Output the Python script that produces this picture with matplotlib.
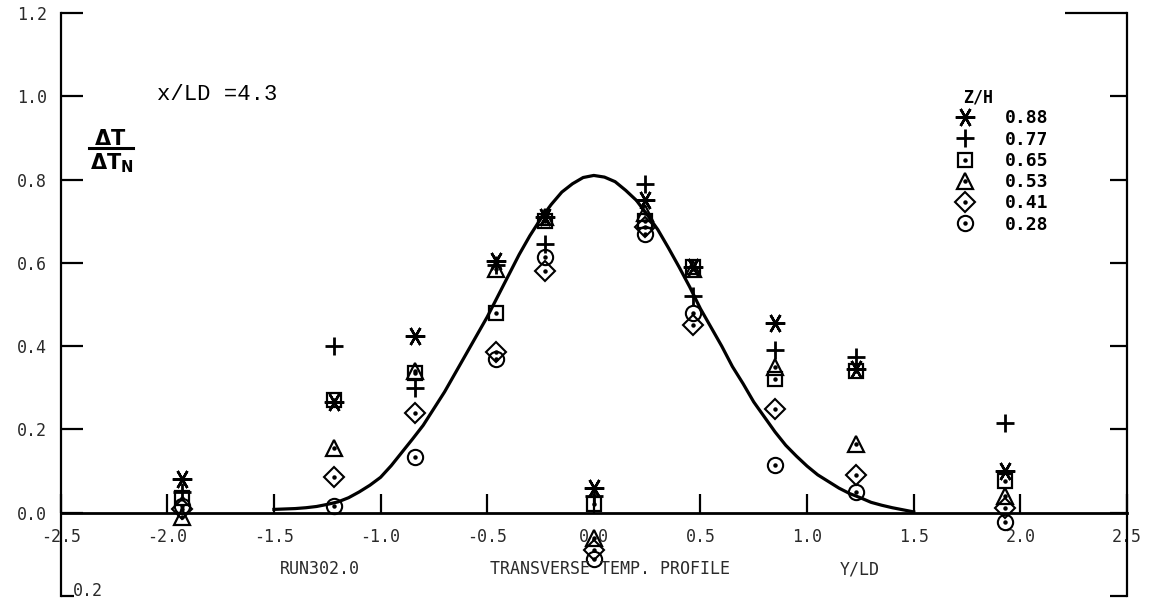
import matplotlib
matplotlib.use("Agg")
import matplotlib.pyplot as plt
from matplotlib.lines import Line2D

# Transverse positions y/LD of the measuring stations
y_ld = [-1.93, -1.22, -0.84, -0.46, -0.23, 0.0, 0.24, 0.465, 0.85, 1.23, 1.93]

# Normalised temperature rise dT/dT_N at each height z/H
z_labels = ["0.88", "0.77", "0.65", "0.53", "0.41", "0.28"]
dt_z088 = [0.08, 0.265, 0.425, 0.605, 0.71, 0.06, 0.75, 0.59, 0.455, 0.345, 0.10]
dt_z077 = [0.05, 0.40, 0.30, 0.595, 0.645, 0.04, 0.79, 0.52, 0.39, 0.375, 0.215]
dt_z065 = [0.035, 0.27, 0.335, 0.48, 0.70, 0.02, 0.70, 0.59, 0.32, 0.34, 0.075]
dt_z053 = [-0.01, 0.155, 0.34, 0.585, 0.71, -0.06, 0.72, 0.585, 0.35, 0.165, 0.04]
dt_z041 = [0.01, 0.085, 0.24, 0.385, 0.58, -0.09, 0.685, 0.45, 0.25, 0.09, 0.012]
dt_z028 = [0.015, 0.015, 0.135, 0.37, 0.615, -0.11, 0.67, 0.48, 0.115, 0.05, -0.022]

# Reference profile curve
curve_x = [-1.50, -1.45, -1.40, -1.35, -1.30, -1.25, -1.20, -1.15, -1.10, -1.05,
           -1.00, -0.95, -0.90, -0.85, -0.80, -0.75, -0.70, -0.65, -0.60, -0.55,
           -0.50, -0.45, -0.40, -0.35, -0.30, -0.25, -0.20, -0.15, -0.10, -0.05,
           0.00, 0.05, 0.10, 0.15, 0.20, 0.25, 0.30, 0.35, 0.40, 0.45,
           0.50, 0.55, 0.60, 0.65, 0.70, 0.75, 0.80, 0.85, 0.90, 0.95,
           1.00, 1.05, 1.10, 1.15, 1.20, 1.25, 1.30, 1.35, 1.40, 1.45, 1.50]
curve_y = [0.008, 0.009, 0.010, 0.012, 0.015, 0.020, 0.026, 0.036, 0.050, 0.066,
           0.085, 0.113, 0.145, 0.177, 0.210, 0.250, 0.290, 0.335, 0.380, 0.425,
           0.470, 0.520, 0.570, 0.620, 0.665, 0.705, 0.740, 0.770, 0.790, 0.805,
           0.810, 0.806, 0.795, 0.774, 0.750, 0.716, 0.680, 0.636, 0.590, 0.542,
           0.490, 0.445, 0.400, 0.351, 0.310, 0.266, 0.230, 0.194, 0.162, 0.136,
           0.112, 0.091, 0.075, 0.059, 0.046, 0.036, 0.025, 0.018, 0.012, 0.007,
           0.002]

x_ticks = [-2.5, -2.0, -1.5, -1.0, -0.5, 0.0, 0.5, 1.0, 1.5, 2.0, 2.5]
x_tick_labels = ["-2.5", "-2.0", "-1.5", "-1.0", "-0.5", "0.0", "0.5", "1.0",
                 "1.5", "2.0", "2.5"]
y_ticks = [0.0, 0.2, 0.4, 0.6, 0.8, 1.0, 1.2]
y_tick_labels = ["0.0", "0.2", "0.4", "0.6", "0.8", "1.0", "1.2"]

W, H = 1151, 601
PLOT_FONT = "DejaVu Sans Mono"
INK = "#2a2a2a"


def fx(px):
    return px / W


def fy(py):
    return 1 - py / H


fig = plt.figure(figsize=(W / 100, H / 100), dpi=100)
ax = fig.add_axes([0.0527, 0.0083, 0.9264, 0.9700])
ax.set_xlim(-2.5, 2.5)
ax.set_ylim(-0.2, 1.2)

ax.spines["top"].set_visible(False)
ax.spines["right"].set_visible(False)
ax.spines["bottom"].set_position(("data", 0))
ax.spines["left"].set_linewidth(1.6)
ax.spines["bottom"].set_linewidth(2.0)

ax.set_xticks(x_ticks)
ax.set_xticklabels(x_tick_labels, family=PLOT_FONT, color=INK)
ax.tick_params(axis="x", direction="in", length=14, width=1.6, pad=11,
               labelsize=12)
ax.set_yticks(y_ticks)
ax.set_yticklabels(y_tick_labels, family=PLOT_FONT, color=INK)
ax.set_yticks([-0.2], minor=True)
ax.tick_params(axis="y", which="major", direction="in", length=16, width=1.6,
               pad=10, labelsize=12)
ax.tick_params(axis="y", which="minor", direction="in", length=9, width=1.6,
               labelleft=False)
ax.tick_params(axis="x", which="minor", bottom=False)

# right-hand scale frame
ax2 = ax.twinx()
ax2.set_ylim(-0.2, 1.2)
for s in ["top", "bottom", "left"]:
    ax2.spines[s].set_visible(False)
ax2.spines["right"].set_linewidth(1.6)
ax2.set_yticks([-0.2, 0.0, 0.2, 0.4, 0.6, 0.8, 1.0])
ax2.set_yticks([1.2], minor=True)
ax2.tick_params(axis="y", which="major", direction="in", length=12, width=1.6,
                labelright=False)
ax2.tick_params(axis="y", which="minor", direction="in", length=45, width=1.6,
                labelright=False)

# profile curve
ax.plot(curve_x, curve_y, color="black", lw=2.3, zorder=3,
        solid_joinstyle="round")

series = [
    (dt_z088, dict(marker=(6, 2, 90), ms=14, mew=1.8), False),
    (dt_z077, dict(marker="+", ms=13, mew=2.0), False),
    (dt_z065, dict(marker="s", ms=10, mew=1.6), True),
    (dt_z053, dict(marker="^", ms=11, mew=1.6), True),
    (dt_z041, dict(marker="D", ms=10, mew=1.5), True),
    (dt_z028, dict(marker="o", ms=11, mew=1.5), True),
]

handles = []
for vals, style, dotted in series:
    h = ax.plot(y_ld, vals, ls="none", color="black", mfc="none", mec="black",
                zorder=4, clip_on=False, **style)[0]
    if dotted:
        d = ax.plot(y_ld, vals, ls="none", marker="o", ms=2.2, color="black",
                    zorder=5, clip_on=False)[0]
        handles.append((h, d))
    else:
        handles.append(h)

leg = ax.legend(handles, z_labels, title="Z/H", loc="upper left",
                bbox_to_anchor=(0.838, 0.871), frameon=False,
                prop=dict(family=PLOT_FONT, weight="bold", size=13),
                title_fontproperties=dict(family=PLOT_FONT, weight="bold",
                                          size=12),
                handlelength=1.2, handletextpad=1.6, labelspacing=0.18,
                borderpad=0, borderaxespad=0, alignment="left")
leg.get_title().set_position((9, 0))

# annotations
fig.text(fx(157), fy(95), "x/LD =4.3", family="Liberation Mono", fontsize=16,
         ha="left", va="center")
fig.text(fx(110), fy(139), r"$\mathbf{\Delta T}$", fontsize=15, ha="center",
         va="center")
fig.add_artist(Line2D([fx(89), fx(133)], [fy(147.5), fy(147.5)], color="black",
                      lw=2.2))
fig.text(fx(112), fy(163), r"$\mathbf{\Delta T_N}$", fontsize=15, ha="center",
         va="center")

ax.text(0.011, -0.2, "0.2", transform=ax.get_yaxis_transform(),
        family=PLOT_FONT, fontsize=12, color=INK, ha="left", va="baseline")

fig.text(fx(320), fy(569), "RUN302.0", family=PLOT_FONT, fontsize=12,
         color=INK, ha="center", va="center")
fig.text(fx(610), fy(569), "TRANSVERSE TEMP. PROFILE", family=PLOT_FONT,
         fontsize=12, color=INK, ha="center", va="center")
fig.text(fx(860), fy(569), "Y/LD", family=PLOT_FONT, fontsize=12, color=INK,
         ha="center", va="center")

fig.savefig("out.png", dpi=100, facecolor="white")
